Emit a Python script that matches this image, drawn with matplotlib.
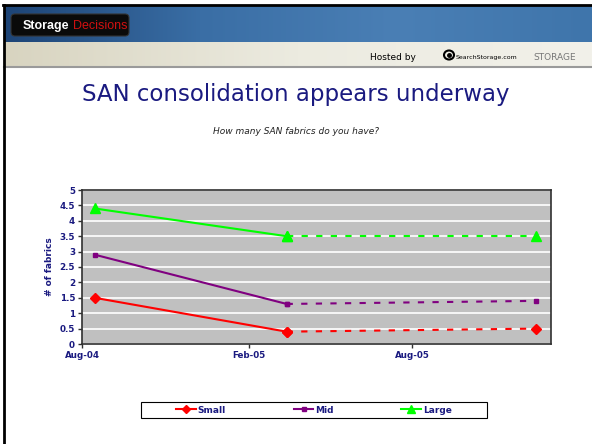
import matplotlib
matplotlib.use('Agg')
import matplotlib.pyplot as plt
import numpy as np
from matplotlib.patches import FancyBboxPatch, Rectangle
from matplotlib.lines import Line2D

# data
dates = np.array(['2004-08-15', '2005-03-15', '2005-12-15'], dtype='datetime64[D]')
small = [1.5, 0.4, 0.5]
mid = [2.9, 1.3, 1.4]
large = [4.4, 3.5, 3.5]
series_names = ['Small', 'Mid', 'Large']
tick_dates = np.array(['2004-08-01', '2005-02-01', '2005-08-01'], dtype='datetime64[D]')
tick_labels = ['Aug-04', 'Feb-05', 'Aug-05']
y_ticks = [0, 0.5, 1, 1.5, 2, 2.5, 3, 3.5, 4, 4.5, 5]
y_labels = ['0', '0.5', '1', '1.5', '2', '2.5', '3', '3.5', '4', '4.5', '5']

W, H = 592, 444
navy = '#1a1a80'

fig = plt.figure(figsize=(W / 100, H / 100), dpi=100)

def fx(px):
    return px / W

def fy(py):
    return 1 - py / H

# header bands
bg = fig.add_axes([0, 0, 1, 1], zorder=-5)
bg.set_xlim(0, W)
bg.set_ylim(H, 0)
bg.axis('off')
grad = np.linspace(0, 1, 256)[None, :]
blue = matplotlib.colors.LinearSegmentedColormap.from_list('b', ['#1d4476', '#3a6ea5', '#4a7fb5', '#3f75ab'])
bg.imshow(grad, cmap=blue, extent=[4, W, 42, 6], aspect='auto')
beige = matplotlib.colors.LinearSegmentedColormap.from_list('g', ['#d8d4c0', '#ecebe0', '#f2f1ea'])
bg.imshow(grad, cmap=beige, extent=[4, W, 67, 42], aspect='auto')
bg.plot([4, W], [67.5, 67.5], color='#9a9a9a', lw=1.5)
bg.plot([3.5, 3.5], [5, H], color='black', lw=2)
bg.plot([3, W], [5.5, 5.5], color='black', lw=2)
bg.add_patch(FancyBboxPatch((11, 14), 118, 22, boxstyle='round,pad=0,rounding_size=4',
                            fc='#0a0a0a', ec='#333333', lw=0.8))
t1 = bg.text(23, 26, 'Storage', color='white', fontsize=9, fontweight='bold', va='center',
             family='Liberation Sans')
fig.canvas.draw()
ext = t1.get_window_extent().transformed(bg.transData.inverted())
bg.text(ext.x1 + 3, 26, 'Decisions', color='#d01010', fontsize=9, va='center',
        family='Liberation Sans')
bg.text(370, 57, 'Hosted by', color='black', fontsize=6.5, va='center')
bg.add_patch(matplotlib.patches.Ellipse((449, 55), 10, 9, fc='none', ec='black', lw=1.5))
bg.plot(449, 55, 'o', color='black', ms=2.5)
bg.text(456, 57, 'SearchStorage.com', color='black', fontsize=4.5, va='center')
bg.text(533, 57, 'STORAGE', color='#777777', fontsize=6.5, va='center')

fig.text(0.5, fy(95), 'SAN consolidation appears underway', color=navy,
         fontsize=16.5, ha='center', va='center')
fig.text(0.5, fy(131), 'How many SAN fabrics do you have?', color='#222222',
         fontsize=6.5, style='italic', ha='center', va='center')

ax = fig.add_axes([fx(82), fy(344), fx(551 - 82), (344 - 190) / H])
ax.set_facecolor('#c0c0c0')

styles = [('#ff0000', 'D', 5.5), ('#800080', 's', 3.5), ('#00ff00', '^', 7.5)]
for vals, name, (c, m, ms) in zip([small, mid, large], series_names, styles):
    ax.plot(dates[:2], vals[:2], color=c, lw=1.5, marker=m, ms=ms, mec=c)
    ax.plot(dates[1:], vals[1:], color=c, lw=1.5, ls=(0, (3, 4)), marker=m, ms=ms, mec=c)

ax.set_xlim(np.datetime64('2004-08-01'), np.datetime64('2006-01-01'))
ax.set_ylim(0, 5)
ax.set_xticks(tick_dates)
ax.set_xticklabels(tick_labels)
ax.set_yticks(y_ticks)
ax.set_yticklabels(y_labels)
ax.yaxis.grid(True, color='white', lw=1.2)
ax.set_axisbelow(True)
for s in ax.spines.values():
    s.set_color('#303030')
    s.set_linewidth(1.2)
ax.tick_params(labelsize=6.3, colors='#303030', labelcolor=navy, length=3, width=1, pad=2)
for lab in ax.get_xticklabels() + ax.get_yticklabels():
    lab.set_fontweight('bold')
ax.set_ylabel('# of fabrics', color=navy, fontsize=6.5, fontweight='bold', labelpad=4)

# legend box drawn separately, entries centred inside it
bg.add_patch(Rectangle((141, 402), 346, 16, fc='white', ec='black', lw=0.8))
handles = [Line2D([], [], color=c, marker=m, ms=ms * 0.7, lw=1.5) for c, m, ms in styles]
leg = fig.legend(handles, series_names, ncol=3, loc='center',
                 bbox_to_anchor=(fx(314), fy(410)), frameon=False,
                 handlelength=2.2, handletextpad=0.2, columnspacing=7.5,
                 prop={'size': 6.5, 'weight': 'bold'}, borderpad=0.3, borderaxespad=0)
for t in leg.get_texts():
    t.set_color(navy)

fig.savefig('out.png', dpi=100)
